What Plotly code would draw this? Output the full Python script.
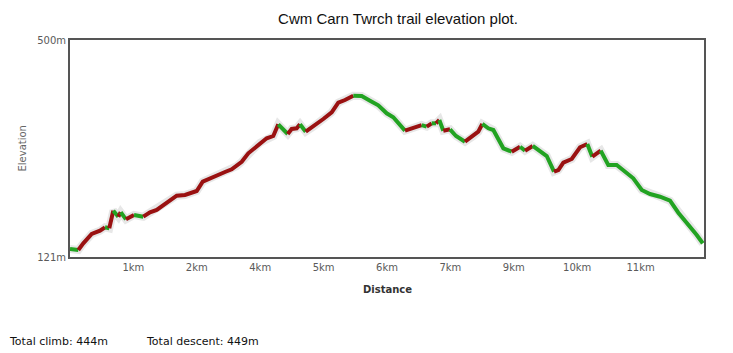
import plotly.graph_objects as go

# Distance along trail (km) and elevation (m)
distance_km = [0.000, 0.161, 0.258, 0.421, 0.582, 0.679, 0.762, 0.840, 0.937, 0.984,
               1.086, 1.242, 1.422, 1.552, 1.682, 1.876, 2.070, 2.231, 2.361, 2.458,
               2.575, 2.716, 2.846, 3.007, 3.137, 3.234, 3.331, 3.459, 3.556, 3.686,
               3.816, 3.944, 4.041, 4.138, 4.224, 4.301, 4.398, 4.462, 4.573, 4.720,
               4.914, 5.077, 5.205, 5.335, 5.496, 5.659, 5.820, 5.981, 6.144, 6.272,
               6.499, 6.660, 6.823, 6.920, 7.017, 7.101, 7.165, 7.242, 7.372, 7.489,
               7.663, 7.824, 7.921, 7.999, 8.115, 8.213, 8.407, 8.570, 8.731, 8.828,
               8.977, 9.183, 9.249, 9.390, 9.474, 9.571, 9.734, 9.895, 10.036, 10.133,
               10.296, 10.443, 10.606, 10.800, 10.928, 11.092, 11.253, 11.447, 11.641, 11.802,
               11.996, 12.159, 12.276]
elevation_m = [135.0, 133.2, 144.9, 161.2, 166.9, 172.9, 171.1, 201.9, 191.4, 199.1,
               186.8, 194.4, 191.4, 199.1, 203.1, 214.8, 228.1, 229.3, 234.0, 236.3,
               252.5, 258.5, 263.0, 269.5, 274.2, 279.9, 287.4, 302.1, 309.1, 320.6,
               328.3, 332.3, 352.8, 342.8, 335.8, 344.6, 345.8, 352.8, 339.8, 348.6,
               362.0, 373.7, 390.5, 395.2, 402.7, 402.2, 394.0, 386.0, 372.0, 365.0,
               341.6, 345.8, 351.5, 348.6, 354.5, 354.5, 360.3, 341.6, 344.0, 332.3,
               322.4, 332.3, 339.8, 353.3, 345.8, 342.8, 310.8, 304.9, 313.6, 306.7,
               314.9, 302.1, 297.4, 270.0, 272.9, 285.7, 292.2, 312.6, 318.4, 296.2,
               306.7, 281.7, 281.7, 268.2, 258.5, 238.0, 231.0, 226.3, 219.3, 198.4,
               178.1, 159.4, 144.9]

x_range = [0, 12.3]
y_range = [121, 500]
x_tick_vals = [1.23, 2.46, 3.69, 4.92, 6.15, 7.38, 8.61, 9.84, 11.07]
x_tick_text = ["1km", "2km", "4km", "5km", "6km", "7km", "9km", "10km", "11km"]
y_tick_vals = [121, 500]
y_tick_text = ["121m", "500m"]

title_text = "Cwm Carn Twrch trail elevation plot."
total_climb = "Total climb: 444m"
total_descent = "Total descent: 449m"

RED = "#9a1111"
GREEN = "#22a322"

fig = go.Figure()

# soft shadow under the profile
fig.add_trace(go.Scatter(x=distance_km, y=elevation_m, mode="lines",
                         line=dict(color="rgba(60,60,60,0.12)", width=8),
                         hoverinfo="skip", showlegend=False))

# split into runs of climbing (red) / descending-or-flat (green) segments
runs = []
for i in range(len(distance_km) - 1):
    col = RED if elevation_m[i + 1] > elevation_m[i] else GREEN
    if runs and runs[-1][0] == col:
        runs[-1][1].append(i + 1)
    else:
        runs.append([col, [i, i + 1]])

for col, idx in runs:
    fig.add_trace(go.Scatter(x=[distance_km[k] for k in idx],
                             y=[elevation_m[k] for k in idx],
                             mode="lines", line=dict(color=col, width=4),
                             showlegend=False))

tick_font = dict(family="DejaVu Sans, Verdana, sans-serif", size=10, color="#5a5a5a")

fig.update_layout(
    width=733, height=353,
    margin=dict(l=70, r=29, t=40, b=96),
    paper_bgcolor="white", plot_bgcolor="white",
    title=dict(text=title_text, x=0.543, y=1 - 19 / 353, xanchor="center", yanchor="middle",
               xref="container", yref="container",
               font=dict(family="Liberation Sans, Arial, sans-serif", size=15, color="#111111")),
    xaxis=dict(range=x_range, tickvals=x_tick_vals, ticktext=x_tick_text,
               showgrid=False, zeroline=False, showline=True, mirror=True,
               linecolor="#555555", linewidth=2, ticks="", tickfont=tick_font,
               fixedrange=True),
    yaxis=dict(range=y_range, tickvals=y_tick_vals, ticktext=y_tick_text,
               showgrid=False, zeroline=False, showline=True, mirror=True,
               linecolor="#555555", linewidth=2, ticks="", tickfont=tick_font,
               fixedrange=True),
    annotations=[
        dict(text="<b>Distance</b>", xref="paper", yref="paper", x=0.5, y=0,
             xanchor="center", yanchor="middle", yshift=-32, showarrow=False,
             font=dict(family="DejaVu Sans, Verdana, sans-serif", size=10, color="#333333")),
        dict(text="Elevation", xref="paper", yref="paper", x=0, y=0.5,
             xanchor="center", yanchor="middle", xshift=-48, textangle=-90, showarrow=False,
             font=dict(family="DejaVu Sans, Verdana, sans-serif", size=10, color="#666666")),
        dict(text=total_climb, xref="paper", yref="paper", x=0, y=0,
             xanchor="left", yanchor="middle", xshift=-63, yshift=-84, showarrow=False,
             font=dict(family="DejaVu Sans, Verdana, sans-serif", size=11, color="#111111")),
        dict(text=total_descent, xref="paper", yref="paper", x=0, y=0,
             xanchor="left", yanchor="middle", xshift=74, yshift=-84, showarrow=False,
             font=dict(family="DejaVu Sans, Verdana, sans-serif", size=11, color="#111111")),
    ],
)

fig.write_html("out.html")
